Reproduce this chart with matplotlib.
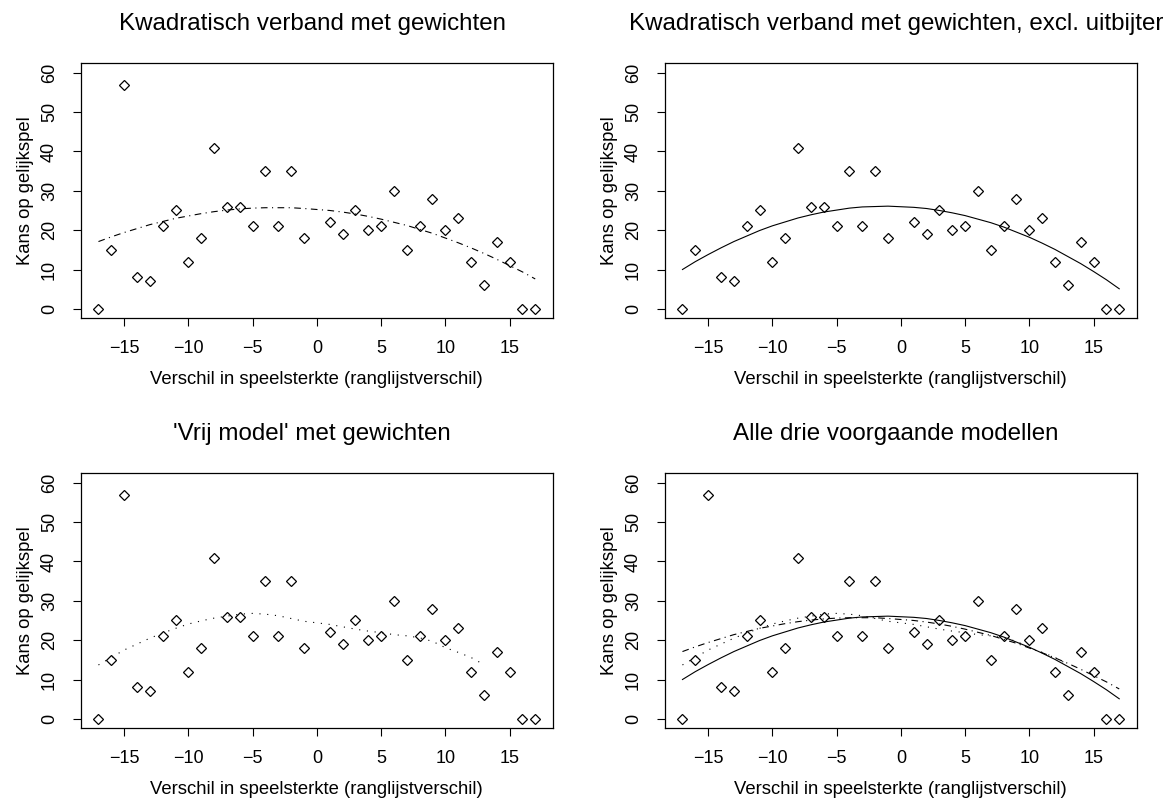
import numpy as np
import matplotlib
matplotlib.use("Agg")
import matplotlib.pyplot as plt

plt.rcParams['font.family'] = ['Liberation Sans', 'DejaVu Sans']

############################################
# data
verschil = [-17, -16, -15, -14, -13, -12, -11, -10, -9, -8, -7, -6, -5, -4, -3, -2, -1,
            1, 2, 3, 4, 5, 6, 7, 8, 9, 10, 11, 12, 13, 14, 15, 16, 17]
kans = [0, 15, 57, 8, 7, 21, 25, 12, 18, 41, 26, 26, 21, 35, 21, 35, 18,
        22, 19, 25, 20, 21, 30, 15, 21, 28, 20, 23, 12, 6, 17, 12, 0, 0]

# fitted curves, evaluated at the same x values
kwadr_gew = [17.1, 18.3, 19.4, 20.4, 21.4, 22.2, 23.0, 23.6, 24.2, 24.7, 25.1, 25.4, 25.6, 25.7, 25.7, 25.7, 25.5,
             25.0, 24.6, 24.1, 23.5, 22.8, 22.0, 21.2, 20.2, 19.2, 18.0, 16.8, 15.5, 14.1, 12.6, 11.0, 9.4, 7.6]
kwadr_excl = [10.0, 12.0, 13.8, 15.5, 17.1, 18.5, 19.9, 21.1, 22.1, 23.1, 23.9, 24.6, 25.1, 25.6, 25.9, 26.0, 26.1,
              25.8, 25.5, 25.0, 24.4, 23.7, 22.8, 21.9, 20.8, 19.5, 18.2, 16.7, 15.1, 13.3, 11.5, 9.5, 7.4, 5.1]
vrij_gew = [13.7, 15.6, 17.5, 19.0, 20.5, 21.8, 23.0, 24.1, 24.9, 25.6, 26.1, 26.6, 26.8, 26.6, 26.2, 25.5, 24.8,
            24.0, 23.4, 22.8, 22.3, 21.9, 21.4, 21.1, 20.6, 19.7, 18.1, 16.9, 15.6, 13.8, np.nan, np.nan, np.nan, np.nan]

uitbijter = -15   # excluded in the second panel

titels = ["Kwadratisch verband met gewichten",
          "Kwadratisch verband met gewichten, excl. uitbijter",
          "'Vrij model' met gewichten",
          "Alle drie voorgaande modellen"]

x = np.array(verschil)
y = np.array(kans)

lw = 0.8
dotdash = (0, (6, 4, 1, 4))
dotted = (0, (1, 6))

############################################
fig = plt.figure(figsize=(11.75, 7.99), dpi=100)

lefts = [81, 665]
tops = [63.3, 473.3]
W, H = 1175., 799.
axw, axh = 471.7, 255.0

axes = []
for r in range(2):
    for c in range(2):
        ax = fig.add_axes([lefts[c] / W, 1 - (tops[r] + axh) / H, axw / W, axh / H])
        axes.append(ax)

for i, ax in enumerate(axes):
    if i == 1:
        keep = x != uitbijter
        ax.plot(x[keep], y[keep], 'D', ms=5.5, mfc='none', mec='black', mew=0.9)
    else:
        ax.plot(x, y, 'D', ms=5.5, mfc='none', mec='black', mew=0.9)

    if i in (0, 3):
        ax.plot(x, kwadr_gew, color='black', lw=lw, ls=dotdash)
    if i in (1, 3):
        ax.plot(x, kwadr_excl, color='black', lw=lw, ls='-')
    if i in (2, 3):
        ax.plot(x, vrij_gew, color='black', lw=lw, ls=dotted)

    ax.set_xlim(-18.36, 18.36)
    ax.set_ylim(-2.4, 62.4)
    ax.set_xticks([-15, -10, -5, 0, 5, 10, 15])
    ax.set_yticks([0, 10, 20, 30, 40, 50, 60])
    ax.tick_params(direction='out', length=5.5, width=0.8, labelsize=13, pad=10)
    ax.tick_params(axis='y', pad=11)
    for lab in ax.get_yticklabels():
        lab.set_rotation(90)
        lab.set_va('center')
    for s in ax.spines.values():
        s.set_linewidth(0.9)
    ax.set_title(titels[i], fontsize=17.4, pad=24, x=0.49)
    ax.set_xlabel('Verschil in speelsterkte (ranglijstverschil)', fontsize=13.3, labelpad=10)
    ax.set_ylabel('Kans op gelijkspel', fontsize=13.3, labelpad=5)

fig.savefig("out.png", dpi=100)
